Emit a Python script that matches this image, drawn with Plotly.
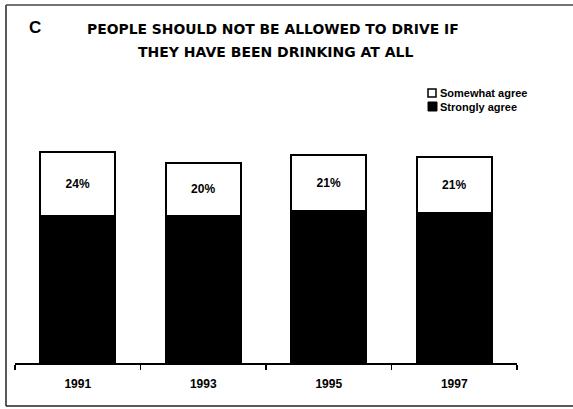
import plotly.graph_objects as go

years = ["1991", "1993", "1995", "1997"]
strongly = [55, 55, 57, 56]
somewhat = [24, 20, 21, 21]
series_names = ["Strongly agree", "Somewhat agree"]
title_lines = ["PEOPLE SHOULD NOT BE ALLOWED TO DRIVE IF", "THEY HAVE BEEN DRINKING AT ALL"]
panel_label = "C"

W, H = 573, 409
L, R, T, B = 15, 56, 96, 46
PW, PH = W - L - R, H - T - B

def px(x):
    return (x - L) / PW

def py(y):
    return (H - B - y) / PH

FONT = "Liberation Sans, Arial, sans-serif"
TFONT = "DejaVu Sans, Liberation Sans, sans-serif"

fig = go.Figure()
fig.add_trace(go.Bar(
    x=years, y=strongly, name=series_names[0],
    marker=dict(color="black", line=dict(color="black", width=2)),
    width=0.6, hoverinfo="skip",
))
fig.add_trace(go.Bar(
    x=years, y=somewhat, name=series_names[1],
    marker=dict(color="white", line=dict(color="black", width=2)),
    width=0.6, texttemplate="<b>%{y}%</b>", textposition="inside",
    insidetextanchor="middle", textangle=0,
    textfont=dict(family=FONT, size=12, color="black"),
    hoverinfo="skip",
))

shapes = [
    # outer frame: left, top, bottom edges
    dict(type="line", xref="paper", yref="paper", x0=px(6), x1=px(6), y0=py(406), y1=py(5),
         line=dict(color="#222", width=1.5)),
    dict(type="line", xref="paper", yref="paper", x0=px(6), x1=px(573), y0=py(5), y1=py(5),
         line=dict(color="#444", width=1.5)),
    dict(type="line", xref="paper", yref="paper", x0=px(6), x1=px(573), y0=py(406), y1=py(406),
         line=dict(color="#222", width=1.5)),
    # legend squares
    dict(type="rect", xref="paper", yref="paper",
         x0=px(428), x1=px(436), y0=py(97), y1=py(89),
         line=dict(color="black", width=1.5), fillcolor="white"),
    dict(type="rect", xref="paper", yref="paper",
         x0=px(428), x1=px(437), y0=py(111), y1=py(102),
         line=dict(color="black", width=1), fillcolor="black"),
]

annotations = [
    dict(text="<b>" + panel_label + "</b>", x=px(35), y=py(27), xref="paper", yref="paper",
         showarrow=False, font=dict(family=FONT, size=17, color="black"), xanchor="center", yanchor="middle"),
    dict(text="<b>" + title_lines[0] + "</b>", x=px(273), y=py(29), xref="paper", yref="paper",
         showarrow=False, font=dict(family=TFONT, size=13.9, color="black"), xanchor="center", yanchor="middle"),
    dict(text="<b>" + title_lines[1] + "</b>", x=px(275), y=py(52), xref="paper", yref="paper",
         showarrow=False, font=dict(family=TFONT, size=14, color="black"), xanchor="center", yanchor="middle"),
    dict(text="<b>" + series_names[1] + "</b>", x=px(438), y=py(93), xref="paper", yref="paper",
         showarrow=False, font=dict(family=FONT, size=11, color="black"), xanchor="left", yanchor="middle"),
    dict(text="<b>" + series_names[0] + "</b>", x=px(438), y=py(107), xref="paper", yref="paper",
         showarrow=False, font=dict(family=FONT, size=11, color="black"), xanchor="left", yanchor="middle"),
]

fig.update_layout(
    width=W, height=H, barmode="stack", showlegend=False,
    margin=dict(l=L, r=R, t=T, b=B, pad=0),
    paper_bgcolor="white", plot_bgcolor="white",
    font=dict(family=FONT, color="black"),
    shapes=shapes, annotations=annotations,
    xaxis=dict(type="category", range=[-0.5, 3.5], showline=True, linecolor="black", linewidth=1.5,
               ticks="outside", tickson="boundaries", ticklen=5, tickwidth=1.5, tickcolor="black",
               showgrid=False, zeroline=False,
               tickfont=dict(family=FONT, size=12, color="black"),
               ticklabelstandoff=9,
               tickvals=years, ticktext=["<b>" + y + "</b>" for y in years]),
    yaxis=dict(range=[0, 100], visible=False, showgrid=False, zeroline=False),
)

fig.write_html("out.html", config={"displayModeBar": False, "staticPlot": True},
               post_script="document.body.style.margin='0';document.body.style.overflow='hidden';")
